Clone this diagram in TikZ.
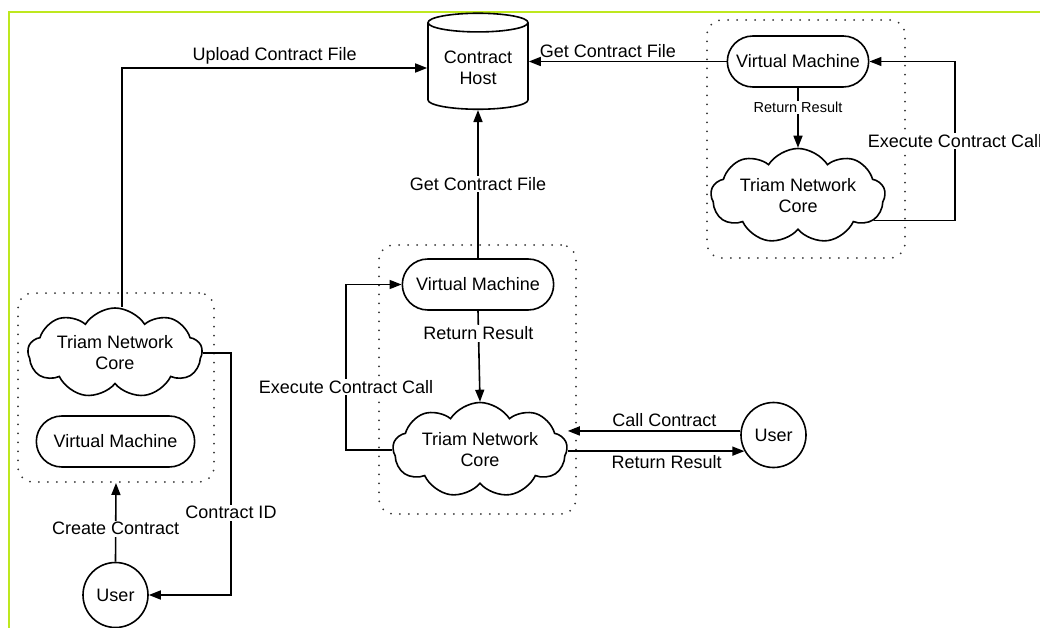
\documentclass[tikz,border=0pt]{standalone}
\usepackage{fontspec}
\setmainfont{Liberation Sans}
\usetikzlibrary{shapes.geometric,shapes.symbols,shapes.misc,arrows.meta}
\definecolor{framegreen}{RGB}{190,232,30}
\newcommand{\diagfont}{\fontsize{18}{21}\selectfont}
\newcommand{\smallfont}{\fontsize{14.5}{17}\selectfont}
\tikzset{
  vmbox/.style={rounded rectangle, draw, line width=1.6pt, minimum height=51pt, font=\diagfont},
  corecloud/.style={cloud, cloud puffs=9, cloud puff arc=115, cloud ignores aspect, draw, line width=1.6pt, align=center, font=\diagfont},
  usercircle/.style={circle, draw, line width=1.6pt, minimum size=65pt, font=\diagfont},
  groupbox/.style={draw=black!80, line width=2pt, dash pattern=on 0pt off 9pt, line cap=round, rounded corners=15pt},
  flow/.style={line width=1.6pt, -{Triangle[length=12pt,width=9pt]}},
  lbl/.style={fill=white, inner sep=1.5pt, font=\diagfont},
}

\begin{document}
\begin{tikzpicture}[x=1pt,y=-1pt]
  \useasboundingbox (0,0) rectangle (1040,628);
  \draw[framegreen, line width=2.5pt] (9,628) -- (9,12) -- (1040,12);

  % groups
  \node[groupbox, minimum width=196pt, minimum height=189pt] (grp1) at (116,387.5) {};
  \node[groupbox, minimum width=197pt, minimum height=269pt] (grp2) at (477.5,379.5) {};
  \node[groupbox, minimum width=198pt, minimum height=238pt] (grp3) at (806,139) {};

  \node[cylinder, shape border rotate=90, draw, line width=1.6pt, aspect=0.25, minimum width=100pt, minimum height=96pt, align=center, font=\diagfont] (host) at (478,68) {Contract\\Host};

  % left
  \node[corecloud, minimum width=164pt, minimum height=90pt] (core1) at (115,353) {Triam Network\\Core};
  \node[vmbox, minimum width=165pt] (vm1) at (115.5,441.5) {Virtual Machine};
  \node[usercircle] (user1) at (115.5,595) {User};
  % middle
  \node[vmbox, minimum width=158pt] (vm2) at (478,284.5) {Virtual Machine};
  \node[corecloud, minimum width=155pt, minimum height=95pt] (core2) at (480,450) {Triam Network\\Core};
  \node[usercircle] (user2) at (773.5,435) {User};
  % right
  \node[vmbox, minimum width=148pt] (vm3) at (798,61.5) {Virtual Machine};
  \node[corecloud, minimum width=148pt, minimum height=95pt] (core3) at (798,196) {Triam Network\\Core};

  \coordinate (cid) at (231,0);
  \coordinate (exec2) at (346,0);
  \coordinate (exec3) at (955,0);

  \draw[flow] ([xshift=7pt]core1.north) |- node[pos=0.75, above, font=\diagfont]{Upload Contract File} (host.west);
  \draw[flow] (core1.east) -- (core1.east -| cid) |- node[lbl, pos=0.33]{Contract ID} (user1.east);
  \draw[flow] (user1.north) -- node[lbl, pos=0.42]{Create Contract} (grp1.south);

  \draw[flow] (vm2.north) -- node[lbl]{Get Contract File} (host.south);
  \draw[flow] (vm2.south) -- node[lbl, pos=0.25]{Return Result} (core2.north);
  \draw[flow] (core2.west) -- (core2.west -| exec2) |- node[lbl, pos=0.19]{Execute Contract Call} (vm2.west);
  \draw[flow] (user2.173) -- node[above, pos=0.44, font=\diagfont]{Call Contract} (user2.173 -| core2.east);
  \draw[flow] (user2.209 -| core2.east) -- node[below, pos=0.56, font=\diagfont]{Return Result} (user2.209);

  \draw[flow] (vm3.west) -- node[above, pos=0.6, font=\diagfont]{Get Contract File} (vm3.west -| host.east);
  \draw[flow] (vm3.south) -- node[lbl, pos=0.33, font=\smallfont]{Return Result} (core3.north);
  \draw[flow] (core3.-18) -- (core3.-18 -| exec3) |- node[lbl, pos=0.25]{Execute Contract Call} (vm3.east);
\end{tikzpicture}
\end{document}
